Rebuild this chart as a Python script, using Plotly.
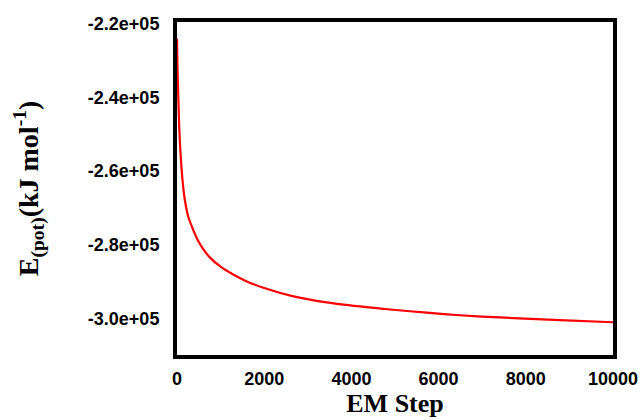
import plotly.graph_objects as go

# EM step vs potential energy (kJ/mol)
em_steps = [0, 10, 28, 51, 80, 126, 179, 260, 372, 480, 602, 746, 1000, 1300, 1600, 2000,
            2650, 3430, 4190, 4950, 5730, 6490, 7400, 8780, 10000]
e_pot = [-2.24e5, -2.31e5, -2.39e5, -2.48e5, -2.550e5, -2.624e5, -2.678e5, -2.725e5,
         -2.760e5, -2.789e5, -2.812e5, -2.834e5, -2.860e5, -2.882e5, -2.900e5, -2.918e5,
         -2.940e5, -2.957e5, -2.968e5, -2.977e5, -2.985e5, -2.992e5, -2.998e5, -3.005e5, -3.011e5]

x_tick_vals = [0, 2000, 4000, 6000, 8000, 10000]
x_tick_text = ["0", "2000", "4000", "6000", "8000", "10000"]
y_tick_vals = [-2.2e5, -2.4e5, -2.6e5, -2.8e5, -3.0e5]
y_tick_text = ["-2.2e+05", "-2.4e+05", "-2.6e+05", "-2.8e+05", "-3.0e+05"]

fig = go.Figure()
fig.add_trace(go.Scatter(x=em_steps, y=e_pot, mode="lines",
                         line=dict(color="#ff0000", width=2.2, shape="spline", smoothing=0.8),
                         showlegend=False))

tick_font = dict(family="Liberation Sans, Arial, sans-serif", size=18, color="black", weight="bold")
title_font = dict(family="Liberation Serif, Times New Roman, serif", size=26, color="black", weight="bold")
ytitle_font = dict(family="Liberation Serif, Times New Roman, serif", size=28, color="black", weight="bold")

fig.update_layout(
    width=644, height=420,
    margin=dict(l=177, r=31, t=22, b=65),
    paper_bgcolor="white", plot_bgcolor="white",
)
fig.update_xaxes(
    range=[0, 10000], tickvals=x_tick_vals, ticktext=x_tick_text,
    showgrid=False, zeroline=False, showline=True, linewidth=4, linecolor="black",
    mirror=True, ticks="", tickfont=tick_font, ticklabelstandoff=4, automargin=False,
    title=dict(text="EM Step", font=title_font, standoff=4),
)
fig.update_yaxes(
    range=[-3.1e5, -2.195e5], tickvals=y_tick_vals, ticktext=y_tick_text,
    showgrid=False, zeroline=False, showline=True, linewidth=4, linecolor="black",
    mirror=True, ticks="", tickfont=tick_font, ticklabelstandoff=10, automargin=False,
    title=dict(text="E<sub>(pot)</sub>(kJ mol<sup>-1</sup>)", font=ytitle_font, standoff=42),
)

fig.write_html("out.html")
